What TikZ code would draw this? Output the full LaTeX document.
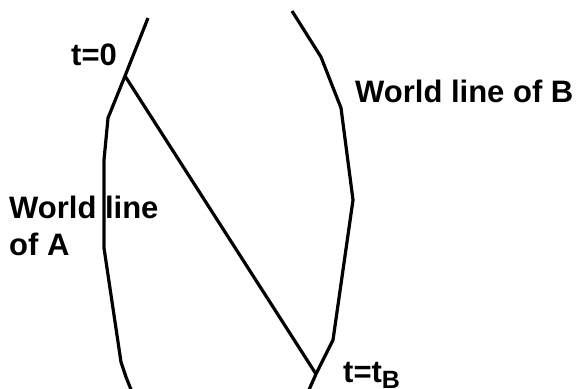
\documentclass[tikz,border=0pt]{standalone}
\usepackage{fontspec}
\setmainfont{Liberation Sans}
\begin{document}
\begin{tikzpicture}[x=1pt, y=-1pt]
\tikzset{wline/.style={draw, line width=3.2pt, line join=round}}
\tikzset{etiquette/.style={anchor=base west, inner sep=0pt, font=\fontsize{31}{37}\selectfont\bfseries}}
\useasboundingbox (0, 0) rectangle (577, 388);
\clip (0, 0) rectangle (577, 388);
\coordinate (E0) at (125, 76);
\coordinate (EB) at (316, 374);
\coordinate (A1) at (148, 18);
\coordinate (A2) at (108, 118);
\coordinate (A3) at (104, 160);
\coordinate (A4) at (104, 248);
\coordinate (A5) at (121, 362);
\coordinate (A6) at (126, 377);
\coordinate (A7) at (132, 392);
\coordinate (B1) at (292, 11);
\coordinate (B2) at (321, 57);
\coordinate (B3) at (341, 108);
\coordinate (B4) at (353, 200);
\coordinate (B5) at (333, 340);
\coordinate (B6) at (308, 392);
\node[etiquette] (L0) at (71, 65) {t=0};
\node[etiquette] (LB) at (355, 102) {World line of B};
\node[etiquette, align=left] (LA) at (9, 255) {World line\\of A};
\node[etiquette] (LT) at (343, 382) {t=t{\fontsize{25}{25}\selectfont\raisebox{-6pt}{B}}};
\draw[wline] (A1) -- (E0) -- (A2) -- (A3) -- (A4) -- (A5) -- (A6) -- (A7);
\draw[wline] (B1) -- (B2) -- (B3) -- (B4) -- (B5) -- (EB) -- (B6);
\draw[wline] (E0) -- (EB);
\end{tikzpicture}
\end{document}
